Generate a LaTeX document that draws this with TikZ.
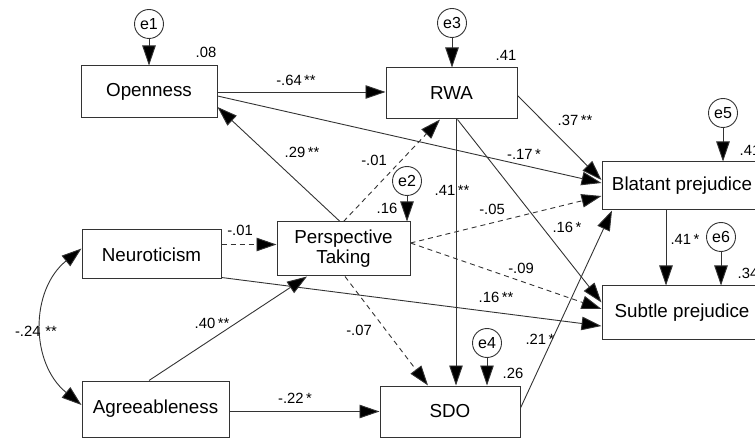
\documentclass[tikz,border=0pt]{standalone}
\usepackage{fontspec}
\setmainfont{Liberation Sans}
\usetikzlibrary{arrows.meta, positioning}

\begin{document}
\begin{tikzpicture}[
  x=1pt, y=-1pt,
  obs/.style={rectangle, draw=black!80, line width=1pt, inner sep=0pt, align=center, font=\fontsize{18.8}{20}\selectfont},
  resid/.style={circle, draw=black!80, line width=0.9pt, minimum size=29pt, inner sep=0pt, font=\fontsize{16}{18}\selectfont},
  coef/.style={inner sep=0pt, font=\fontsize{14.8}{16}\selectfont},
  reg/.style={draw=black!80, line width=0.9pt, -{Triangle[length=20pt, width=13.5pt, fill=black]}},
  nsreg/.style={reg, dash pattern=on 5pt off 4pt}
]
\useasboundingbox (0,0) rectangle (755,438);

\node[obs, minimum width=136pt, minimum height=52pt] (open) at (149,92) {Openness};
\node[obs, minimum width=131pt, minimum height=51pt] (rwa) at (451.5,93.5) {RWA};
\node[obs, minimum width=160pt, minimum height=48pt] (blat) at (682,186) {Blatant prejudice};
\node[obs, minimum width=160pt, minimum height=53pt] (subt) at (682,312.5) {Subtle prejudice};
\node[obs, minimum width=139pt, minimum height=49pt] (neur) at (151.5,254.5) {Neuroticism};
\node[obs, minimum width=147pt, minimum height=56pt] (agre) at (155.5,409) {Agreeableness};
\node[obs, minimum width=133pt, minimum height=54pt] (pers) at (343.5,249) {Perspective\\Taking};
\node[obs, minimum width=140pt, minimum height=51pt] (sdo) at (450,411.5) {SDO};

\node[resid] (e1) at (149,24) {e1};
\node[resid] (e3) at (452,23) {e3};
\node[resid] (e2) at (407,181) {e2};
\node[resid] (e4) at (487,343) {e4};
\node[resid] (e5) at (723,113) {e5};
\node[resid] (e6) at (721,237) {e6};

\node[coef] (r-open) at (206,52) {.08};
\node[coef] (r-rwa) at (506,55) {.41};
\node[coef] (r-pers) at (387,208) {.16};
\node[coef] (r-sdo) at (513,373) {.26};
\node[coef] (r-blat) at (750,150) {.41};
\node[coef] (r-subt) at (748,273) {.34};

\draw[reg] (e1) -- (open);
\draw[reg] (e3) -- (e3 |- rwa.north);
\draw[reg] (e2) -- (e2 |- pers.north);
\draw[reg] (e4) -- (e4 |- sdo.north);
\draw[reg] (e5) -- (e5 |- blat.north);
\draw[reg] (e6) -- (e6 |- subt.north);

\draw[reg] (open.east) -- (open.east -| rwa.west);
\draw[reg] ([yshift=-4pt]open.east) -- ([yshift=3pt]blat.west);
\draw[reg] ([xshift=-3.5pt]pers.north) -- ([yshift=-15pt]open.east);
\draw[nsreg] (pers.north) -- ([xshift=-11.5pt]rwa.south);
\draw[reg] ([xshift=4.5pt]rwa.south) -- ([xshift=4.5pt]rwa.south |- sdo.north);
\draw[reg] ([yshift=-2pt]rwa.east) -- ([yshift=6pt]blat.west);
\draw[reg] ([xshift=6pt]rwa.south) -- ([yshift=10pt]subt.west);
\draw[nsreg] ([yshift=6pt]pers.east) -- ([yshift=-10pt]blat.west);
\draw[nsreg] ([yshift=6pt]pers.east) -- ([yshift=3.5pt]subt.west);
\draw[nsreg] ([yshift=10pt]neur.east) -- ([yshift=10pt]neur.east -| pers.west);
\draw[reg] ([yshift=2pt]neur.south east) -- ([yshift=-13.5pt]subt.west);
\draw[reg] ([xshift=-6.5pt]agre.north) -- ([xshift=-36.5pt]pers.south);
\draw[reg] (agre.east |- sdo.west) -- (sdo.west);
\draw[nsreg] ([xshift=1.5pt]pers.south) -- ([xshift=-22pt]sdo.north);
\draw[reg] ([yshift=3.5pt]sdo.east) -- ([xshift=-70pt]blat.south);
\draw[reg] ([xshift=-16pt]blat.south) -- ([xshift=-16pt]blat.south |- subt.north);
\draw[reg, {Triangle[length=20pt, width=13.5pt, fill=black]}-{Triangle[length=20pt, width=13.5pt, fill=black]}]
  ([yshift=6pt]neur.west) .. controls (30,290) and (30,363) .. ([yshift=4pt]agre.west);

\node[coef] (c-or) at (296,80) {-.64\,**};
\node[coef] (c-po) at (302,152) {.29\,**};
\node[coef] (c-pr) at (374,160) {-.01};
\node[coef] (c-rs) at (452,190) {.41\,**};
\node[coef] (c-ob) at (524,154) {-.17\,*};
\node[coef] (c-rb) at (575,120) {.37\,**};
\node[coef] (c-pb) at (492,209) {-.05};
\node[coef] (c-ru) at (567,227) {.16\,*};
\node[coef] (c-bu) at (685,239) {.41\,*};
\node[coef] (c-pu) at (521,268) {-.09};
\node[coef] (c-nu) at (496,297) {.16\,**};
\node[coef] (c-sb) at (540,339) {.21\,*};
\node[coef] (c-np) at (240,230) {-.01};
\node[coef] (c-na) at (36,331) {-.24\,\,**};
\node[coef] (c-ap) at (212,323) {.40\,**};
\node[coef] (c-as) at (295,398) {-.22\,*};
\node[coef] (c-ps) at (359,330) {-.07};
\end{tikzpicture}
\end{document}
